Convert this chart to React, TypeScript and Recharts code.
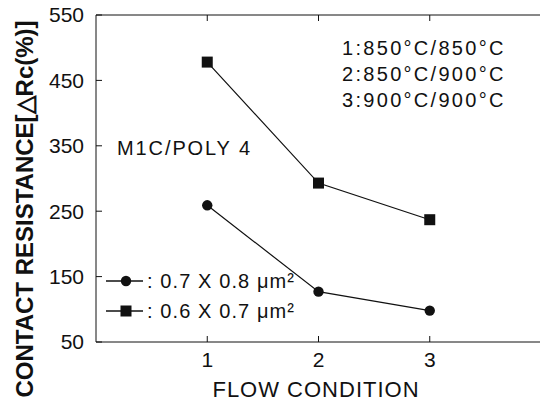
import React from "react";
import { LineChart, Line, XAxis, YAxis, Legend } from "recharts";

// flow condition on x, contact resistance change (%) on y
const conditions = [1, 2, 3];
const circleSeries = [259, 127, 98]; // 0.7 x 0.8 um^2
const squareSeries = [478, 293, 237]; // 0.6 x 0.7 um^2
const seriesNames = ["0.7 X 0.8 μm²", "0.6 X 0.7 μm²"];
const xTicks = [1, 2, 3];
const yTicks = [50, 150, 250, 350, 450, 550];
const conditionNotes = ["1:850°C/850°C", "2:850°C/900°C", "3:900°C/900°C"];
const sampleNote = "M1C/POLY 4";

const data = conditions.map((c, i) => ({
  cond: c,
  circle: circleSeries[i],
  square: squareSeries[i],
}));

const FONT = "'Liberation Sans', Arial, sans-serif";
const INK = "#111";
const TICK_LEN = 6;
const GAP = 12; // tickMargin used on the labelled axes

// inward tick marks drawn by hand, since recharts only draws outward ones
function makeTick(side: "left" | "right" | "top" | "bottom") {
  return (props: any) => {
    const { x, y, payload } = props;
    const line = { stroke: INK, strokeWidth: 1 };
    if (side === "left") {
      return (
        <g>
          <line x1={x + GAP} x2={x + GAP + TICK_LEN} y1={y} y2={y} {...line} />
          <text x={x} y={y} dy="0.355em" textAnchor="end" fontFamily={FONT} fontSize={21} fill={INK}>
            {payload.value}
          </text>
        </g>
      );
    }
    if (side === "bottom") {
      return (
        <g>
          <line x1={x} x2={x} y1={y - GAP} y2={y - GAP - TICK_LEN} {...line} />
          <text x={x} y={y - 2} dy="0.71em" textAnchor="middle" fontFamily={FONT} fontSize={21} fill={INK}>
            {payload.value}
          </text>
        </g>
      );
    }
    if (side === "top") {
      return <line x1={x} x2={x} y1={y} y2={y + TICK_LEN} {...line} />;
    }
    return <line x1={x - TICK_LEN} x2={x} y1={y} y2={y} {...line} />;
  };
}

function SquareDot(props: any) {
  const { cx, cy } = props;
  if (cx == null || cy == null) return null;
  return <rect x={cx - 5.5} y={cy - 5.5} width={11} height={11} fill={INK} />;
}

function LegendBox() {
  const row = (marker: "circle" | "square", label: string) => (
    <div style={{ display: "flex", alignItems: "center", height: 30 }}>
      <svg width={38} height={14} style={{ display: "block" }}>
        <line x1={0} y1={7} x2={37} y2={7} stroke={INK} strokeWidth={1.6} />
        {marker === "circle" ? (
          <circle cx={20} cy={7} r={5.2} fill={INK} />
        ) : (
          <rect x={14.5} y={1.5} width={11} height={11} fill={INK} />
        )}
      </svg>
      <span style={{ marginLeft: 3, letterSpacing: 1.1 }}>: {label}</span>
    </div>
  );
  return (
    <div style={{ fontFamily: FONT, fontSize: 20, color: INK, lineHeight: 1 }}>
      {row("circle", seriesNames[0])}
      {row("square", seriesNames[1])}
    </div>
  );
}

export default function App() {
  return (
    <div
      style={{
        position: "fixed",
        left: 0,
        top: 0,
        width: 540,
        height: 405,
        overflow: "hidden",
        background: "#fff",
      }}
    >
      <LineChart
        width={560}
        height={405}
        data={data}
        margin={{ top: 14, right: 18, bottom: 33, left: 36 }}
      >
        <XAxis
          xAxisId="bottom"
          dataKey="cond"
          type="number"
          domain={[0, 4]}
          ticks={xTicks}
          height={30}
          tickLine={false}
          tickSize={0}
          tickMargin={GAP}
          tick={makeTick("bottom")}
          stroke={INK}
        />
        <XAxis
          xAxisId="top"
          orientation="top"
          dataKey="cond"
          type="number"
          domain={[0, 4]}
          ticks={xTicks}
          height={1}
          tickLine={false}
          tickSize={0}
          tickMargin={0}
          tick={makeTick("top")}
          stroke={INK}
        />
        <YAxis
          yAxisId="left"
          type="number"
          domain={[50, 550]}
          ticks={yTicks}
          width={60}
          tickLine={false}
          tickSize={0}
          tickMargin={GAP}
          tick={makeTick("left")}
          stroke={INK}
        />
        <YAxis
          yAxisId="right"
          orientation="right"
          type="number"
          domain={[50, 550]}
          ticks={yTicks}
          width={1}
          tickLine={false}
          tickSize={0}
          tickMargin={0}
          tick={makeTick("right")}
          stroke={INK}
        />
        <Legend
          layout="vertical"
          align="center"
          verticalAlign="middle"
          content={() => <LegendBox />}
          wrapperStyle={{ left: 106, top: 266, width: 220 }}
        />
        <Line
          xAxisId="bottom"
          yAxisId="left"
          dataKey="square"
          stroke={INK}
          strokeWidth={1.2}
          dot={<SquareDot />}
          activeDot={false}
          isAnimationActive={false}
        />
        <Line
          xAxisId="bottom"
          yAxisId="left"
          dataKey="circle"
          stroke={INK}
          strokeWidth={1.2}
          dot={{ r: 5.2, fill: INK, stroke: "none" }}
          activeDot={false}
          isAnimationActive={false}
        />
      </LineChart>

      {/* annotations */}
      <div
        style={{
          position: "absolute",
          left: 342,
          top: 35,
          fontFamily: FONT,
          fontSize: 20,
          color: INK,
          lineHeight: "26px",
          letterSpacing: 2.3,
          whiteSpace: "nowrap",
        }}
      >
        {conditionNotes.map((t) => (
          <div key={t}>{t}</div>
        ))}
      </div>
      <div
        style={{
          position: "absolute",
          left: 117,
          top: 137,
          fontFamily: FONT,
          fontSize: 20,
          color: INK,
          letterSpacing: 1.9,
          whiteSpace: "nowrap",
        }}
      >
        {sampleNote}
      </div>
      <div
        style={{
          position: "absolute",
          left: 316,
          top: 390,
          transform: "translate(-50%, -50%)",
          fontFamily: FONT,
          fontSize: 22,
          color: INK,
          letterSpacing: 1,
          whiteSpace: "nowrap",
        }}
      >
        FLOW CONDITION
      </div>
      <div
        style={{
          position: "absolute",
          left: 25,
          top: 209,
          transform: "translate(-50%, -50%) rotate(-90deg)",
          fontFamily: FONT,
          fontSize: 24,
          fontWeight: 700,
          color: INK,
          whiteSpace: "nowrap",
        }}
      >
        CONTACT RESISTANCE[△Rc(%)]
      </div>
    </div>
  );
}
